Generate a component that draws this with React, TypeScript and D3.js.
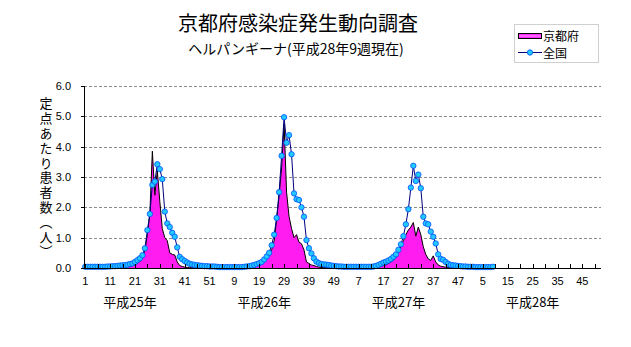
import React from 'react';
import * as d3 from 'd3';

const WIDTH = 631;
const HEIGHT = 347;

const titleText = '京都府感染症発生動向調査';
const subtitleText = 'ヘルパンギーナ(平成28年9週現在)';
const yAxisTitle = '定点あたり患者数（人）';
const yearLabels = ['平成25年', '平成26年', '平成27年', '平成28年'];
const yearLabelWeek = [19, 21, 23, 25];
const weeksPerYear = 52;
const xTickLabels = ['1', '11', '21', '31', '41', '51', '9', '19', '29', '39', '49', '7', '17', '27', '37', '47', '5', '15', '25', '35', '45'];
const yTicks = [0, 1, 2, 3, 4, 5, 6];
const seriesNames = ['京都府', '全国'];

// 全国 (national) per week
const national2013 = [
  0.04, 0.04, 0.04, 0.04, 0.04, 0.04, 0.04, 0.04, 0.04, 0.05,
  0.05, 0.06, 0.06, 0.07, 0.08, 0.09, 0.09, 0.11, 0.13, 0.15,
  0.2, 0.26, 0.32, 0.42, 0.65, 1.25, 1.78, 2.74, 2.85, 3.42,
  3.26, 2.93, 1.86, 1.47, 1.35, 1.16, 1.03, 0.68, 0.37, 0.29,
  0.23, 0.18, 0.14, 0.12, 0.1, 0.09, 0.08, 0.07, 0.06, 0.06,
  0.05, 0.05,
];
const national2014 = [
  0.05, 0.04, 0.03, 0.03, 0.03, 0.03, 0.03, 0.03, 0.03, 0.03,
  0.03, 0.03, 0.04, 0.05, 0.06, 0.08, 0.1, 0.13, 0.16, 0.2,
  0.28, 0.38, 0.5, 0.75, 1.1, 1.65, 2.5, 3.7, 4.97, 4.13,
  4.38, 3.75, 2.46, 2.27, 2.24, 2.0, 1.69, 0.92, 0.65, 0.48,
  0.32, 0.21, 0.16, 0.13, 0.12, 0.11, 0.1, 0.08, 0.07, 0.06,
  0.05, 0.05,
];
const national2015 = [
  0.04, 0.04, 0.04, 0.04, 0.04, 0.04, 0.04, 0.04, 0.04, 0.04,
  0.04, 0.04, 0.05, 0.07, 0.1, 0.14, 0.18, 0.21, 0.25, 0.3,
  0.37, 0.45, 0.6, 0.78, 1.05, 1.44, 1.94, 2.65, 3.37, 2.87,
  3.08, 2.63, 1.69, 1.47, 1.44, 1.2, 1.03, 0.81, 0.45, 0.3,
  0.27, 0.2, 0.14, 0.1, 0.09, 0.08, 0.07, 0.06, 0.05, 0.05,
  0.04, 0.04,
];
const national2016 = [0.04, 0.03, 0.03, 0.03, 0.03, 0.03, 0.03, 0.03, 0.04];

// 京都府 (Kyoto) per week
const kyoto2013 = [
  0.02, 0, 0, 0.03, 0, 0, 0, 0.02, 0, 0,
  0, 0.02, 0, 0.03, 0.02, 0.05, 0.03, 0.05, 0.04, 0.08,
  0.1, 0.15, 0.22, 0.3, 0.6, 1.1, 1.8, 3.85, 2.4, 3.2,
  2.2, 1.3, 1.0, 0.9, 0.5, 0.45, 0.43, 0.2, 0.08, 0.05,
  0.03, 0.02, 0.02, 0.03, 0.02, 0.02, 0, 0.02, 0.02, 0,
  0.02, 0,
];
const kyoto2014 = [
  0.02, 0, 0.02, 0, 0, 0.02, 0, 0, 0.02, 0,
  0.02, 0.02, 0.02, 0.03, 0.03, 0.05, 0.05, 0.08, 0.1, 0.15,
  0.25, 0.35, 0.45, 0.6, 0.9, 1.6, 2.4, 3.3, 4.75, 2.5,
  1.7, 1.3, 1.0, 1.1, 0.85, 0.8, 0.6, 0.2, 0.15, 0.1,
  0.08, 0.05, 0.03, 0.02, 0.02, 0.02, 0, 0.02, 0, 0.02,
  0, 0,
];
const kyoto2015 = [
  0.02, 0, 0, 0.02, 0, 0, 0.02, 0, 0, 0.02,
  0, 0.02, 0.02, 0.03, 0.03, 0.05, 0.08, 0.1, 0.15, 0.2,
  0.25, 0.35, 0.55, 0.7, 0.9, 1.1, 1.25, 1.35, 1.5, 1.05,
  1.35, 1.1, 0.7, 0.45, 0.3, 0.25, 0.4, 0.2, 0.1, 0.06,
  0.04, 0.03, 0.02, 0.02, 0.02, 0, 0.02, 0, 0, 0.02,
  0, 0,
];
const kyoto2016 = [0, 0.02, 0, 0, 0.02, 0, 0, 0.02, 0];

const nationalValues = [...national2013, ...national2014, ...national2015, ...national2016];
const kyotoValues = [...kyoto2013, ...kyoto2014, ...kyoto2015, ...kyoto2016];

const categories: number[] = d3.range(yearLabels.length * weeksPerYear);

const PLOT_LEFT = 84;
const PLOT_RIGHT = 601;
const PLOT_TOP = 86;
const PLOT_BOTTOM = 268;

const JP = "'Noto Sans CJK JP', 'Noto Sans', sans-serif";
const NUM = "'Liberation Sans', Arial, sans-serif";

export default function App() {
  const x = d3.scaleBand<number>().domain(categories).range([PLOT_LEFT, PLOT_RIGHT]).padding(0);
  const bw = x.bandwidth();
  const cx = (i: number) => (x(i) as number) + bw / 2;
  const y = d3.scaleLinear().domain([0, 6]).range([PLOT_BOTTOM, PLOT_TOP]);

  const kyotoData = kyotoValues.map((v, i) => ({ i, v }));
  const nationalData = nationalValues.map((v, i) => ({ i, v }));

  const area = d3.area<{ i: number; v: number }>()
    .x(d => cx(d.i))
    .y0(y(0))
    .y1(d => y(d.v));
  const lineK = d3.line<{ i: number; v: number }>().x(d => cx(d.i)).y(d => y(d.v));
  const lineN = d3.line<{ i: number; v: number }>().x(d => cx(d.i)).y(d => y(d.v));

  const minorTicks = categories.filter(i => i % 5 === 0);

  return (
    <svg width={WIDTH} height={HEIGHT} style={{ position: 'absolute', left: 0, top: 0, background: '#fff' }}>
      <defs>
        <linearGradient id="pinkGrad" x1="0" y1="0" x2="0" y2="1">
          <stop offset="0" stopColor="#ff00ff" />
          <stop offset="0.5" stopColor="#ff77ff" />
          <stop offset="1" stopColor="#ff00ff" />
        </linearGradient>
      </defs>
      <rect x={0} y={0} width={WIDTH} height={HEIGHT} fill="#fff" />

      {/* Title */}
      <text x={298} y={31} textAnchor="middle" fontFamily={JP} fontSize={20} fill="#000">{titleText}</text>
      <text x={296} y={54} textAnchor="middle" fontFamily={JP} fontSize={14} fill="#000">{subtitleText}</text>

      {/* grid lines */}
      {yTicks.filter(t => t > 0).map(t => (
        <line key={t} x1={PLOT_LEFT} x2={PLOT_RIGHT} y1={Math.round(y(t)) + 0.5} y2={Math.round(y(t)) + 0.5}
          stroke="#8a8a8a" strokeWidth={1} strokeDasharray="3,2" />
      ))}

      {/* Kyoto area */}
      <path d={area(kyotoData) || ''} fill="#ff1cf0" stroke="none" />
      <path d={lineK(kyotoData) || ''} fill="none" stroke="#000" strokeWidth={1} />

      {/* National */}
      <path d={lineN(nationalData) || ''} fill="none" stroke="#000080" strokeWidth={1} />
      {nationalData.map(d => (
        <circle key={d.i} cx={cx(d.i)} cy={y(d.v)} r={2.7} fill="#22c8ff" stroke="#0050ff" strokeWidth={0.8} />
      ))}

      {/* axes */}
      <line x1={PLOT_LEFT + 0.5} x2={PLOT_LEFT + 0.5} y1={PLOT_TOP} y2={PLOT_BOTTOM + 0.5} stroke="#000" />
      <line x1={PLOT_LEFT} x2={PLOT_RIGHT} y1={PLOT_BOTTOM + 0.5} y2={PLOT_BOTTOM + 0.5} stroke="#000" />
      {yTicks.map(t => (
        <g key={t}>
          <line x1={PLOT_LEFT - 3} x2={PLOT_LEFT} y1={Math.round(y(t)) + 0.5} y2={Math.round(y(t)) + 0.5} stroke="#000" />
          <text x={71} y={y(t) + 4} textAnchor="end" fontFamily={NUM} fontSize={11} fill="#000">{t.toFixed(1)}</text>
        </g>
      ))}
      {minorTicks.map(i => (
        <line key={i} x1={Math.round(cx(i)) + 0.5} x2={Math.round(cx(i)) + 0.5} y1={PLOT_BOTTOM - 4} y2={PLOT_BOTTOM} stroke="#000" />
      ))}
      {xTickLabels.map((lab, k) => (
        <text key={k} x={cx(k * 10)} y={285} textAnchor="middle" fontFamily={NUM} fontSize={11} fill="#000">{lab}</text>
      ))}
      {yearLabels.map((lab, k) => (
        <text key={lab} x={cx(k * weeksPerYear + yearLabelWeek[k] - 1)} y={307} textAnchor="middle" fontFamily={JP} fontSize={13} fill="#000">{lab}</text>
      ))}

      {/* y axis title (vertical) */}
      <text x={46} y={97} fontFamily={JP} fontSize={13} fill="#000" letterSpacing={1.8}
        style={{ writingMode: 'vertical-rl' as any }}>{yAxisTitle}</text>

      {/* legend */}
      <rect x={514.5} y={24.5} width={84} height={38} fill="#fff" stroke="#a0a0a0" strokeDasharray="1,1" />
      <rect x={518.5} y={33.5} width={23} height={5} fill="url(#pinkGrad)" stroke="#000" />
      <text x={543} y={40.5} fontFamily={JP} fontSize={12} fill="#000">{seriesNames[0]}</text>
      <line x1={518} x2={542} y1={52.5} y2={52.5} stroke="#000080" />
      <circle cx={530} cy={52.5} r={2.7} fill="#22c8ff" stroke="#0050ff" strokeWidth={0.8} />
      <text x={543} y={58} fontFamily={JP} fontSize={12} fill="#000">{seriesNames[1]}</text>
    </svg>
  );
}
